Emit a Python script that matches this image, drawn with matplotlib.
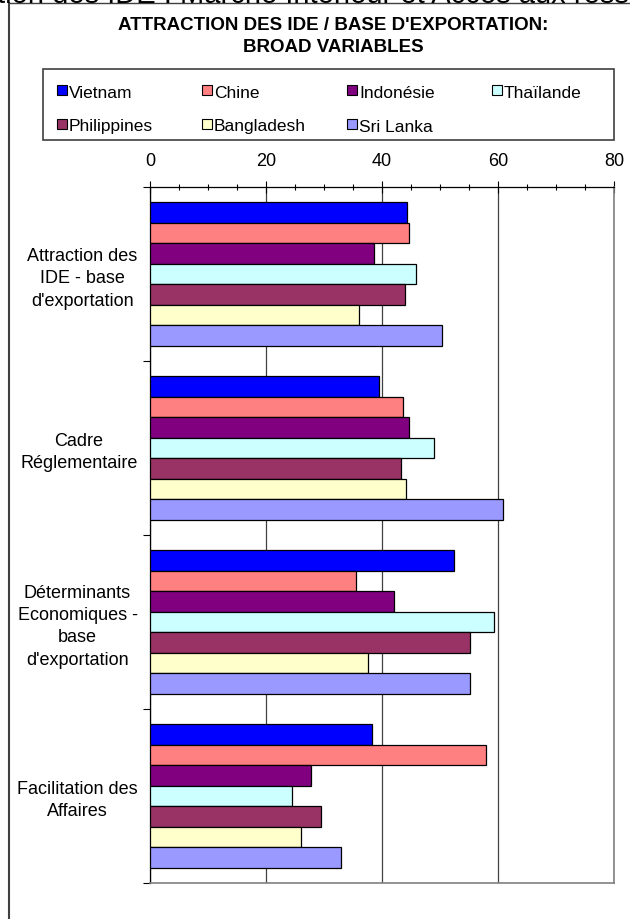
import matplotlib
matplotlib.use("Agg")
import matplotlib.pyplot as plt
from matplotlib.patches import Rectangle
from matplotlib.lines import Line2D
from matplotlib.ticker import MultipleLocator, FixedLocator, NullFormatter

plt.rcParams['font.family'] = ['Liberation Sans', 'DejaVu Sans']

categories = ["Attraction des\nIDE - base\nd'exportation",
              "Cadre\nRéglementaire",
              "Déterminants\nEconomiques -\nbase\nd'exportation",
              "Facilitation des\nAffaires"]
countries = ["Vietnam", "Chine", "Indonésie", "Thaïlande",
             "Philippines", "Bangladesh", "Sri Lanka"]
colors = ["#0000FF", "#FF8080", "#800080", "#CCFFFF",
          "#993366", "#FFFFCC", "#9999FF"]

vietnam = [44.3, 39.4, 52.4, 38.2]
chine = [44.7, 43.7, 35.5, 58.0]
indonesie = [38.6, 44.7, 42.0, 27.8]
thailande = [45.8, 49.0, 59.3, 24.5]
philippines = [43.9, 43.2, 55.2, 29.4]
bangladesh = [36.0, 44.1, 37.6, 26.1]
sri_lanka = [50.3, 60.9, 55.2, 33.0]
series = [vietnam, chine, indonesie, thailande, philippines, bangladesh, sri_lanka]

x_ticks = [0, 20, 40, 60, 80]

W, H = 630, 919
fig = plt.figure(figsize=(W / 100, H / 100), dpi=100)

def fx(px):
    return px / W

def fy(py):
    return 1 - py / H

# plot area
left, right, top, bottom = 150, 614, 187, 883
ax = fig.add_axes([fx(left), fy(bottom), fx(right - left), (bottom - top) / H])

n = len(countries)
h = 1 / (n + 1.5)
for j, (vals, c) in enumerate(zip(series, colors)):
    ys = [i + 0.5 + (j - (n - 1) / 2) * h for i in range(len(categories))]
    ax.barh(ys, vals, height=h, color=c, edgecolor="black", linewidth=0.9, zorder=3)

ax.set_xlim(0, 80)
ax.set_ylim(len(categories), 0)
ax.set_axisbelow(True)

ax.xaxis.tick_top()
ax.xaxis.set_major_locator(FixedLocator(x_ticks))
ax.xaxis.set_minor_locator(MultipleLocator(5))
ax.set_xticklabels([str(v) for v in x_ticks])
ax.tick_params(axis="x", which="major", direction="inout", length=8, width=0.8,
               labelsize=13, pad=8, colors="black")
ax.tick_params(axis="x", which="minor", direction="inout", length=5, width=0.8)
ax.grid(axis="x", which="major", color="#404040", linewidth=0.9, zorder=0)

ax.yaxis.set_major_locator(FixedLocator(range(len(categories) + 1)))
ax.yaxis.set_major_formatter(NullFormatter())
ax.yaxis.set_minor_locator(FixedLocator([i + 0.5 for i in range(len(categories))]))
ax.set_yticklabels(categories, minor=True, multialignment="center", linespacing=1.42)
ax.tick_params(axis="y", which="major", direction="out", length=5, width=0.8)
ax.tick_params(axis="y", which="minor", length=0, labelsize=13, pad=9)

for s in ["top", "left"]:
    ax.spines[s].set_color("black")
    ax.spines[s].set_linewidth(0.9)
for s in ["right", "bottom"]:
    ax.spines[s].set_color("#808080")
    ax.spines[s].set_linewidth(1.2)

# outer frame lines
fig.add_artist(Line2D([fx(8.5), fx(8.5)], [fy(3), 0], color="#404040", linewidth=1.5))
fig.add_artist(Line2D([fx(8.5), 1], [fy(3), fy(3)], color="#404040", linewidth=1.0))

# cropped page title behind
fig.text(fx(-3), fy(3), "tion des IDE : Marché Intérieur et Accès aux ress",
         fontsize=21, ha="left", va="baseline", color="black")

# chart title
fig.text(fx(333), fy(25), "ATTRACTION DES IDE / BASE D'EXPORTATION:",
         fontsize=13.5, fontweight="bold", ha="center", va="center")
fig.text(fx(333), fy(47), "BROAD VARIABLES",
         fontsize=13.5, fontweight="bold", ha="center", va="center")

# legend box
fig.add_artist(Rectangle((fx(43), fy(140)), fx(614 - 43), (140 - 69) / H,
                         facecolor="white", edgecolor="#404040", linewidth=1.2))
col_x = [57, 202, 347, 492]
row_y = [93, 127]
for k, (name, c) in enumerate(zip(countries, colors)):
    r, cc = divmod(k, 4)
    mx, my = col_x[cc], row_y[r]
    fig.add_artist(Rectangle((fx(mx), fy(my + 2)), fx(10), 10 / H,
                             facecolor=c, edgecolor="black", linewidth=0.8))
    fig.text(fx(mx + 12), fy(my), name, fontsize=12.5, ha="left", va="center")

fig.savefig("out.png", dpi=100)
